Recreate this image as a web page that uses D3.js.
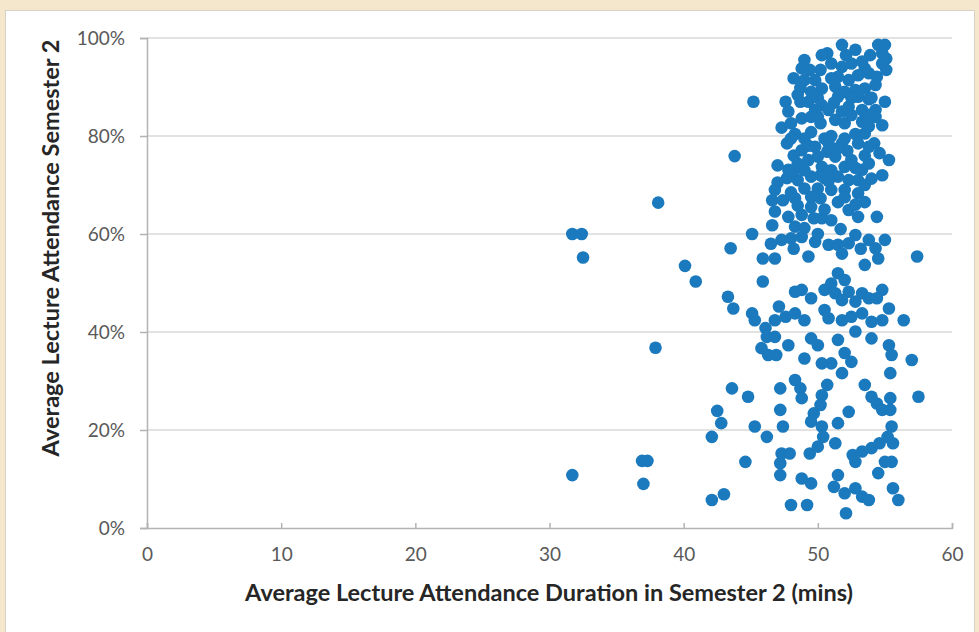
<!DOCTYPE html>
<html>
<head>
<meta charset="utf-8">
<script src="https://cdn.jsdelivr.net/npm/d3@7"></script>
<style>
  html, body { margin: 0; padding: 0; background: #f4e7cc; }
  svg { display: block; }
</style>
</head>
<body>
<svg id="chart" width="979" height="632"></svg>
<script>
// Average lecture attendance duration (mins) per student, semester 2
const durationMins = [
  31.7, 32.4, 32.5, 40.1, 40.9, 38.1, 37.9, 31.7, 36.9, 37.3, 37.0, 42.1, 43.0, 42.1, 42.5, 42.8,
  51.8, 54.5, 55.0, 54.8, 53.9, 52.8, 52.1, 50.7, 50.3, 51.0, 51.8, 52.5, 53.3, 54.8, 55.1,
  48.8, 49.4, 50.2, 48.2, 49.0, 49.8, 51.5, 52.3, 53.0, 53.8, 54.4, 55.1,
  50.3, 49.5, 48.5, 51.3, 52.0, 52.8, 53.5, 54.3, 53.0, 51.5,
  45.2, 47.6, 48.7, 49.3, 50.3, 50.8, 52.3, 53.3, 54.3, 55.0,
  47.3, 48.8, 49.5, 50.2, 51.3, 52.0, 53.3, 54.3, 54.8, 48.0,
  48.3, 52.8, 51.0,
  47.7, 48.8, 49.8, 50.8, 51.8, 53.0, 53.8, 54.6, 55.3, 43.8, 54.8,
  47.8, 48.5, 49.3, 50.3, 51.3, 52.0, 52.5, 53.3, 53.8, 47.7, 48.5, 49.5, 50.5, 51.5, 52.3, 53.0,
  49.0, 50.0, 51.0, 52.0, 53.0, 49.5,
  46.6, 47.4, 48.3, 46.8, 47.8, 48.8, 49.7, 52.3, 53.0, 54.4, 46.6, 50.3, 48.3, 49.0,
  45.1, 47.3, 48.0, 48.8, 49.8, 50.8, 51.5, 52.3, 52.8, 53.8, 55.0, 54.3, 43.5, 57.4, 45.9, 46.8, 49.3, 53.5, 54.5,
  45.9, 51.5, 52.0, 51.0, 48.3, 48.8, 50.5, 51.3, 52.3, 53.3, 54.8, 43.3, 43.7, 47.1, 49.5, 51.8, 52.8, 53.8, 54.4, 55.3,
  45.1, 45.3, 46.8, 47.6, 48.3, 49.0, 50.5, 50.8, 51.8, 52.5, 53.3, 54.0, 54.8, 56.4, 46.1,
  45.8, 46.3, 46.9, 46.2, 46.8, 47.8, 49.0, 49.5, 50.0, 50.3, 51.0, 51.5, 52.0, 51.8, 52.5, 52.8, 54.0, 55.3, 55.5, 57.0, 55.4,
  48.3, 48.7, 48.8, 47.2, 50.7, 50.3, 50.2, 49.7, 43.6, 44.8, 47.2, 53.5, 54.0, 54.4, 55.4, 54.8, 55.4, 57.5,
  45.3, 47.4, 49.5, 50.3, 51.5, 52.3, 55.5,
  44.6, 46.2, 47.3, 47.9, 47.2, 47.2, 48.8, 49.5, 49.4, 50.0, 50.4, 51.3, 48.0, 49.2, 51.2, 51.5, 52.0, 52.8, 53.3, 53.8,
  52.1, 52.6, 52.8, 53.3, 54.0, 54.6, 55.2, 55.6, 55.0, 55.5, 54.5, 55.6, 56.0,
  50.5, 49.0, 52.2, 50.0, 51.0, 49.0, 52.8, 50.7, 48.2, 53.5, 52.5, 51.2, 49.8, 53.8, 54.0, 50.8, 50.2, 51.5, 52.8, 50.5,
  51.7, 51.0, 47.0, 47.0, 48.5, 53.5,
  47.8, 50.0, 51.8, 53.8, 49.0, 53.5, 54.0, 49.5, 52.0, 48.7, 53.8, 51.0, 50.0, 52.5,
  48.0, 49.3, 53.5, 54.2, 50.2, 48.0, 49.5, 52.0, 53.5, 51.5, 46.8, 48.2,
  50.0, 53.2, 51.8, 48.2, 46.5
];

// Average lecture attendance (%) for the same students
const attendancePct = [
  60.0, 60.0, 55.2, 53.5, 50.3, 66.4, 36.8, 10.8, 13.7, 13.7, 9.0, 5.7, 6.9, 18.6, 23.9, 21.4,
  98.6, 98.6, 98.6, 96.9, 96.5, 97.6, 96.5, 96.9, 96.5, 94.8, 94.1, 94.8, 95.2, 94.8, 95.8,
  93.8, 93.5, 93.5, 91.8, 91.4, 91.4, 92.1, 91.4, 92.4, 92.8, 92.1, 93.5,
  89.7, 89.0, 88.4, 90.1, 89.0, 89.4, 89.7, 90.4, 88.0, 88.0,
  87.0, 87.0, 87.0, 87.0, 86.3, 85.3, 86.0, 85.3, 85.3, 87.0,
  81.7, 83.6, 83.9, 82.6, 83.3, 82.6, 82.9, 83.9, 82.2, 82.6,
  80.4, 80.4, 80.0,
  78.5, 77.1, 77.8, 78.5, 78.5, 78.5, 77.8, 76.5, 75.1, 75.9, 72.0,
  73.1, 74.4, 75.1, 73.7, 75.8, 73.7, 75.1, 73.1, 74.4, 71.4, 71.0, 71.7, 71.4, 71.7, 71.0, 71.0,
  69.3, 69.3, 69.0, 69.0, 68.3, 67.6,
  66.9, 66.9, 67.3, 64.6, 63.5, 63.9, 63.2, 64.9, 63.5, 63.5, 61.8, 63.2, 61.5, 61.2,
  60.0, 58.8, 59.1, 59.4, 58.4, 57.8, 57.8, 58.1, 59.8, 58.8, 58.8, 57.1, 57.1, 55.4, 55.0, 55.0, 55.4, 53.7, 55.0,
  50.3, 52.0, 50.6, 49.9, 48.2, 48.6, 48.6, 47.9, 48.2, 47.9, 48.6, 47.2, 44.8, 45.2, 46.9, 46.5, 46.2, 46.9, 46.9, 44.8,
  43.8, 42.4, 42.4, 43.1, 43.8, 42.4, 44.5, 42.8, 42.4, 43.1, 43.8, 42.1, 42.4, 42.4, 40.8,
  36.7, 35.3, 35.3, 39.0, 39.0, 37.3, 34.6, 38.7, 37.3, 33.6, 33.6, 38.4, 35.7, 31.6, 33.9, 40.1, 38.7, 37.3, 35.3, 34.3, 31.6,
  30.2, 28.5, 26.5, 28.5, 29.2, 27.1, 25.1, 23.4, 28.5, 26.8, 24.1, 29.2, 26.8, 25.4, 26.5, 24.1, 24.1, 26.8,
  20.7, 20.7, 21.7, 20.7, 21.4, 23.7, 20.7,
  13.5, 18.6, 15.2, 15.2, 13.2, 10.8, 10.1, 9.1, 15.2, 16.6, 18.6, 17.3, 4.7, 4.7, 8.4, 10.8, 7.1, 8.1, 6.4, 5.7,
  3.0, 14.9, 13.5, 15.6, 16.3, 17.3, 18.6, 17.3, 13.5, 13.5, 11.2, 8.1, 5.7,
  79.5, 79.5, 77.0, 75.8, 73.0, 73.0, 73.5, 76.8, 76.0, 80.5, 84.3, 86.8, 85.3, 87.5, 71.3, 70.8, 67.3, 66.5, 66.0, 65.0,
  61.0, 62.8, 74.0, 70.5, 65.8, 70.0,
  85.0, 84.0, 85.0, 82.0, 95.5, 93.8, 87.8, 80.8, 79.5, 89.8, 84.3, 91.8, 87.8, 87.8,
  79.5, 78.0, 76.0, 78.5, 72.0, 68.5, 65.5, 67.5, 66.5, 77.5, 69.0, 73.0,
  60.0, 57.0, 56.0, 57.0, 58.0
];

const xTickValues = [0, 10, 20, 30, 40, 50, 60];
const yTickValues = [0, 20, 40, 60, 80, 100];
const xTitle = "Average Lecture Attendance Duration in Semester 2 (mins)";
const yTitle = "Average Lecture Attendance Semester 2";

const points = durationMins.map((d, i) => ({ mins: d, pct: attendancePct[i] }));

const svg = d3.select("#chart");
const font = "Lato, 'Open Sans', sans-serif";

// Chart panel
svg.append("rect")
  .attr("x", 5.5).attr("y", 10.5)
  .attr("width", 969).attr("height", 630)
  .attr("fill", "#ffffff")
  .attr("stroke", "#d6d2c8");

const plot = { left: 147, right: 952, top: 38, bottom: 528 };

const x = d3.scaleLinear().domain([0, 60]).range([plot.left, plot.right]);
const y = d3.scaleLinear().domain([0, 100]).range([plot.bottom, plot.top]);

// Horizontal gridlines
svg.append("g")
  .selectAll("line")
  .data(yTickValues.filter(v => v > 0))
  .join("line")
  .attr("x1", plot.left).attr("x2", plot.right)
  .attr("y1", d => y(d)).attr("y2", d => y(d))
  .attr("stroke", "#d9d9d9")
  .attr("stroke-width", 1.5);

// Y axis
const yAxis = svg.append("g")
  .attr("transform", `translate(${plot.left},0)`)
  .call(d3.axisLeft(y).tickValues(yTickValues).tickSize(7).tickPadding(15)
    .tickFormat(d => d + "%"));
yAxis.select(".domain").attr("stroke", "#b3b3b3").attr("stroke-width", 1.5);
yAxis.selectAll(".tick line").attr("stroke", "#b3b3b3").attr("stroke-width", 1.5);
yAxis.selectAll(".tick text")
  .attr("fill", "#595959")
  .style("font-family", font)
  .style("font-size", "19px");

// X axis
const xAxis = svg.append("g")
  .attr("transform", `translate(0,${plot.bottom})`)
  .call(d3.axisBottom(x).tickValues(xTickValues).tickSize(-5).tickPadding(20)
    .tickFormat(d3.format("d")));
xAxis.select(".domain").attr("stroke", "#b3b3b3").attr("stroke-width", 1.5);
xAxis.selectAll(".tick line").attr("stroke", "#b3b3b3").attr("stroke-width", 1.5);
xAxis.selectAll(".tick text")
  .attr("fill", "#595959")
  .style("font-family", font)
  .style("font-size", "19px");

// Points
svg.append("g")
  .selectAll("circle")
  .data(points)
  .join("circle")
  .attr("cx", d => x(d.mins))
  .attr("cy", d => y(d.pct))
  .attr("r", 6.3)
  .attr("fill", "#1b79bd");

// Axis titles
svg.append("text")
  .attr("x", 549)
  .attr("y", 601)
  .attr("text-anchor", "middle")
  .attr("fill", "#262626")
  .style("font-family", font)
  .style("font-weight", "bold")
  .style("font-size", "23.5px")
  .text(xTitle);

svg.append("text")
  .attr("transform", "translate(59,248) rotate(-90)")
  .attr("text-anchor", "middle")
  .attr("fill", "#262626")
  .style("font-family", font)
  .style("font-weight", "bold")
  .style("font-size", "23.5px")
  .text(yTitle);
</script>
</body>
</html>
